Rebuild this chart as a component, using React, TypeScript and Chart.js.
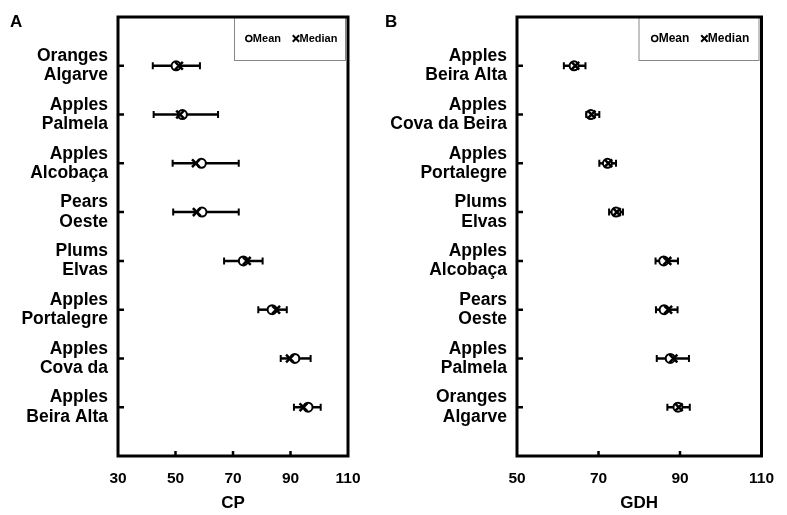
import React, { useEffect, useRef } from 'react';
import { Chart, registerables } from 'chart.js';

Chart.register(...registerables);

// ---------- Panel A (CP) ----------
const cpCategories: string[][] = [
  ['Oranges', 'Algarve'],
  ['Apples', 'Palmela'],
  ['Apples', 'Alcobaça'],
  ['Pears', 'Oeste'],
  ['Plums', 'Elvas'],
  ['Apples', 'Portalegre'],
  ['Apples', 'Cova da'],
  ['Apples', 'Beira Alta'],
];
const cpMean = [50.2, 52.4, 59.0, 59.2, 73.6, 83.6, 91.5, 96.1];
const cpMedian = [51.2, 51.6, 57.1, 57.4, 74.8, 85.0, 89.8, 94.5];
const cpLow = [42.1, 42.4, 49.0, 49.2, 66.9, 78.8, 86.6, 91.2];
const cpHigh = [58.5, 64.8, 72.0, 72.0, 80.3, 88.7, 97.0, 100.5];
const cpTicks = [30, 50, 70, 90, 110];

// ---------- Panel B (GDH) ----------
const gdhCategories: string[][] = [
  ['Apples', 'Beira Alta'],
  ['Apples', 'Cova da Beira'],
  ['Apples', 'Portalegre'],
  ['Plums', 'Elvas'],
  ['Apples', 'Alcobaça'],
  ['Pears', 'Oeste'],
  ['Apples', 'Palmela'],
  ['Oranges', 'Algarve'],
];
const gdhMean = [64.0, 68.1, 72.2, 74.3, 86.0, 86.1, 87.6, 89.5];
const gdhMedian = [64.3, 68.3, 72.4, 74.5, 86.9, 87.1, 88.4, 89.7];
const gdhLow = [61.5, 67.0, 70.2, 72.6, 84.0, 84.1, 84.3, 86.9];
const gdhHigh = [66.8, 70.2, 74.3, 76.0, 89.5, 89.4, 92.2, 92.4];
const gdhTicks = [50, 70, 90, 110];

const seriesLabels = ['Mean', 'Median'];

const FONT = '"Liberation Sans", Arial, Helvetica, sans-serif';

type PanelProps = {
  letter: string;
  categories: string[][];
  mean: number[];
  median: number[];
  low: number[];
  high: number[];
  xTicks: number[];
  xTitle: string;
  left: number;
  width: number;
  yAxisWidth: number;
  padRight: number;
  legendWidth: number;
  legendFont: number;
};

function Panel(p: PanelProps) {
  const ref = useRef<HTMLCanvasElement | null>(null);

  useEffect(() => {
    if (!ref.current) return;
    const decor = {
      id: 'panelDecor',
      beforeDatasetsDraw(chart: any) {
        const { ctx, scales } = chart;
        const xs = scales.x, ys = scales.y;
        ctx.save();
        ctx.strokeStyle = '#000';
        p.low.forEach((lo, i) => {
          const yp = ys.getPixelForValue(i + 1);
          const x1 = xs.getPixelForValue(lo);
          const x2 = xs.getPixelForValue(p.high[i]);
          ctx.lineWidth = 2.5;
          ctx.beginPath();
          ctx.moveTo(x1, yp);
          ctx.lineTo(x2, yp);
          ctx.stroke();
          ctx.lineWidth = 2;
          ctx.beginPath();
          ctx.moveTo(x1, yp - 3.5);
          ctx.lineTo(x1, yp + 3.5);
          ctx.moveTo(x2, yp - 3.5);
          ctx.lineTo(x2, yp + 3.5);
          ctx.stroke();
        });
        ctx.restore();
      },
      afterDraw(chart: any) {
        const { ctx, chartArea: a, scales } = chart;
        const xs = scales.x, ys = scales.y;
        ctx.save();
        // legend
        const fs = p.legendFont;
        const lw = p.legendWidth;
        const lh = 43;
        const lx = a.right - 3 - lw;
        const ly = a.top;
        ctx.fillStyle = '#fff';
        ctx.fillRect(lx, ly, lw, lh);
        ctx.strokeStyle = '#888';
        ctx.lineWidth = 1;
        ctx.strokeRect(lx + 0.5, ly + 0.5, lw, lh);
        ctx.font = `bold ${fs}px ${FONT}`;
        ctx.textBaseline = 'middle';
        ctx.textAlign = 'left';
        ctx.fillStyle = '#000';
        const cy = ly + 21.5;
        let cx = lx + 1.35 * fs;
        chart.data.datasets.forEach((ds: any, k: number) => {
          ctx.strokeStyle = '#000';
          if (k === 0) {
            ctx.beginPath();
            ctx.lineWidth = 1.6;
            ctx.arc(cx, cy, 3, 0, Math.PI * 2);
            ctx.stroke();
          } else {
            ctx.beginPath();
            ctx.lineWidth = 2;
            ctx.moveTo(cx - 3.2, cy - 3.2);
            ctx.lineTo(cx + 3.2, cy + 3.2);
            ctx.moveTo(cx + 3.2, cy - 3.2);
            ctx.lineTo(cx - 3.2, cy + 3.2);
            ctx.stroke();
          }
          const tx = cx + (k === 0 ? 4 : 3.5);
          ctx.fillText(ds.label, tx, cy);
          cx = tx + ctx.measureText(ds.label).width + 15;
        });
        // frame
        ctx.strokeStyle = '#000';
        ctx.lineWidth = 3;
        ctx.strokeRect(a.left, a.top, a.right - a.left, a.bottom - a.top);
        // inward ticks
        ctx.lineWidth = 2.5;
        ctx.beginPath();
        p.categories.forEach((_, i) => {
          const yp = ys.getPixelForValue(i + 1);
          ctx.moveTo(a.left, yp);
          ctx.lineTo(a.left + 6, yp);
        });
        p.xTicks.slice(1, -1).forEach((v) => {
          const xp = xs.getPixelForValue(v);
          ctx.moveTo(xp, a.bottom);
          ctx.lineTo(xp, a.bottom - 5);
        });
        ctx.stroke();
        // panel letter
        ctx.font = `bold 17px ${FONT}`;
        ctx.textBaseline = 'alphabetic';
        ctx.fillText(p.letter, 10, 27);
        ctx.restore();
      },
    };

    const chart = new Chart(ref.current, {
      type: 'scatter',
      data: {
        datasets: [
          {
            label: seriesLabels[0],
            data: p.mean.map((v, i) => ({ x: v, y: i + 1 })),
            pointStyle: 'circle',
            pointRadius: 4.5,
            pointBorderWidth: 2,
            pointBackgroundColor: '#fff',
            pointBorderColor: '#000',
            order: 2,
          },
          {
            label: seriesLabels[1],
            data: p.median.map((v, i) => ({ x: v, y: i + 1 })),
            pointStyle: 'crossRot',
            pointRadius: 5.5,
            pointBorderWidth: 2.5,
            pointBorderColor: '#000',
            pointBackgroundColor: '#000',
            order: 1,
          },
        ],
      },
      options: {
        animation: false,
        responsive: false,
        events: [],
        layout: { padding: { top: 17, right: p.padRight, left: 0, bottom: 0 } },
        plugins: { legend: { display: false }, tooltip: { enabled: false } },
        scales: {
          x: {
            type: 'linear',
            min: p.xTicks[0],
            max: p.xTicks[p.xTicks.length - 1],
            afterBuildTicks: (s: any) => {
              s.ticks = p.xTicks.map((v) => ({ value: v }));
            },
            afterFit: (s: any) => {
              s.height = 59;
            },
            grid: { display: false, drawTicks: false },
            border: { display: false },
            ticks: {
              autoSkip: false,
              maxRotation: 0,
              padding: 13,
              color: '#000',
              font: { family: FONT, size: 15.5, weight: 'bold' },
            },
            title: {
              display: true,
              text: p.xTitle,
              color: '#000',
              font: { family: FONT, size: 17, weight: 'bold' },
              padding: { top: 0, bottom: 1.5 },
            },
          },
          y: {
            type: 'linear',
            min: 0,
            max: 9,
            reverse: true,
            afterBuildTicks: (s: any) => {
              s.ticks = p.categories.map((_, i) => ({ value: i + 1 }));
            },
            afterFit: (s: any) => {
              s.width = p.yAxisWidth;
              s.paddingTop = 0;
              s.paddingBottom = 0;
            },
            grid: { display: false, drawTicks: false },
            border: { display: false },
            ticks: {
              autoSkip: false,
              padding: 10,
              color: '#000',
              font: { family: FONT, size: 17.5, weight: 'bold', lineHeight: 1.1 },
              callback: (v: any) => p.categories[Math.round(v) - 1] ?? '',
            },
          },
        },
      },
      plugins: [decor],
    } as any);
    return () => chart.destroy();
  }, []);

  return (
    <canvas
      ref={ref}
      width={p.width}
      height={515}
      style={{ position: 'absolute', left: p.left, top: 0, width: p.width, height: 515 }}
    />
  );
}

export default function App() {
  return (
    <div
      style={{
        position: 'fixed',
        left: 0,
        top: 0,
        width: 787,
        height: 515,
        background: '#fff',
        overflow: 'hidden',
      }}
    >
      <Panel
        letter="A"
        categories={cpCategories}
        mean={cpMean}
        median={cpMedian}
        low={cpLow}
        high={cpHigh}
        xTicks={cpTicks}
        xTitle="CP"
        left={0}
        width={375}
        yAxisWidth={118}
        padRight={27}
        legendWidth={111}
        legendFont={11}
      />
      <Panel
        letter="B"
        categories={gdhCategories}
        mean={gdhMean}
        median={gdhMedian}
        low={gdhLow}
        high={gdhHigh}
        xTicks={gdhTicks}
        xTitle="GDH"
        left={375}
        width={412}
        yAxisWidth={142}
        padRight={22}
        legendWidth={120}
        legendFont={12}
      />
    </div>
  );
}
